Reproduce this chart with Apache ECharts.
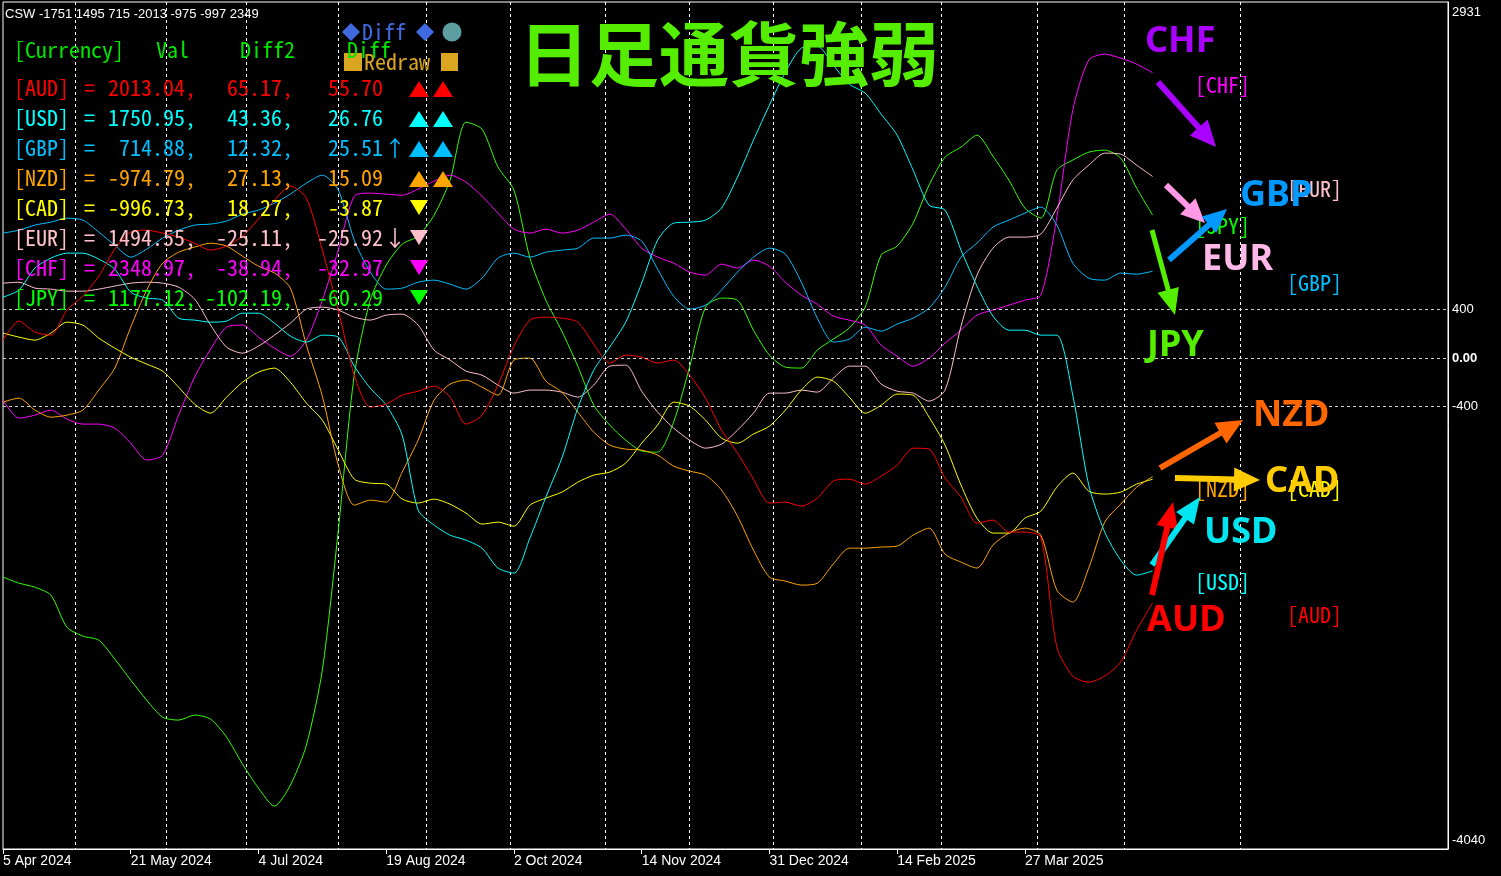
<!DOCTYPE html>
<html><head><meta charset="utf-8">
<script src="https://cdn.jsdelivr.net/npm/echarts@6/dist/echarts.min.js"></script>
<style>html,body{margin:0;padding:0;background:#000;overflow:hidden}#c{width:1501px;height:876px}</style>
</head><body><div id="c"></div>
<script>
// ---- data (daily currency strength, sampled every 4 bars) ----
const BAR_STEP = 4;
const BAR_COUNT = 363;
const LABEL_EVERY = 32;
const tickLabels = ['5 Apr 2024','21 May 2024','4 Jul 2024','19 Aug 2024','2 Oct 2024','14 Nov 2024','31 Dec 2024','14 Feb 2025','27 Mar 2025'];
const monthStartBars = [18,41,61,84,106,127,151,172,193,215,235,259,281,310];
const yMin = -4040, yMax = 2931;
const yLevels = [400, 0, -400];

const AUD = [148,305,214,189,395,510,675,897,1037,1053,1029,996,946,889,922,1004,1144,1300,1416,1317,889,395,-140,-403,-379,-305,-272,-230,-321,-543,-469,-222,99,313,337,329,296,115,-41,25,8,-41,-16,-140,-329,-593,-782,-996,-1193,-1185,-1218,-1152,-1012,-996,-1037,-971,-881,-741,-749,-988,-1144,-1358,-1333,-1432,-1432,-1473,-2378,-2617,-2667,-2617,-2502,-2239,-2013];
const USD = [502,560,741,823,864,864,815,732,543,494,477,329,313,296,305,370,370,288,181,132,189,173,-66,-247,-387,-634,-1251,-1374,-1457,-1498,-1564,-1728,-1769,-1481,-1144,-823,-412,-99,91,296,617,971,1111,1119,1136,1235,1490,1794,2082,2354,2551,2568,2411,2255,2181,2008,1835,1547,1259,1218,889,593,346,230,230,189,189,-305,-1045,-1432,-1662,-1786,-1751];
const GBP = [1029,1053,1095,1119,1152,1136,1037,930,831,897,988,1053,1095,1103,1128,1185,1218,1276,1350,1440,1506,1383,971,708,568,576,625,642,609,568,658,823,864,831,872,889,905,988,988,1012,963,732,510,403,436,560,708,831,905,856,625,329,132,156,255,222,280,329,412,584,831,946,1078,1136,1193,1243,1095,782,658,642,700,691,715];
const NZD = [-362,-329,-428,-486,-469,-428,-263,-82,255,560,782,872,914,946,922,839,757,700,576,107,-313,-881,-1210,-1169,-1185,-938,-675,-346,-214,-181,-239,-305,-16,0,-189,-280,-444,-609,-716,-749,-757,-798,-889,-930,-963,-1086,-1300,-1580,-1802,-1835,-1868,-1852,-1695,-1564,-1564,-1555,-1547,-1457,-1399,-1613,-1679,-1728,-1539,-1440,-1399,-1457,-1909,-2008,-1728,-1350,-1202,-1062,-975];
const CAD = [206,173,148,206,296,272,165,82,8,-49,-107,-239,-379,-453,-321,-198,-115,-82,-198,-370,-510,-757,-996,-1029,-1037,-1160,-1193,-1160,-1202,-1276,-1366,-1350,-1383,-1210,-1152,-1103,-1021,-963,-938,-864,-700,-551,-362,-395,-510,-658,-700,-625,-560,-428,-263,-156,-189,-321,-453,-387,-296,-305,-486,-716,-1045,-1317,-1440,-1440,-1317,-1259,-1062,-946,-1095,-1119,-1103,-1037,-997];
const EUR = [617,625,576,568,551,551,568,593,617,625,617,584,486,272,91,41,99,189,288,403,420,395,337,313,354,362,272,66,-16,-107,-140,-222,-288,-263,-263,-280,-321,-222,-66,-58,-272,-444,-576,-675,-741,-708,-593,-453,-288,-288,-263,-280,-165,-66,-66,-214,-272,-288,-354,-263,263,683,905,996,996,1021,1235,1465,1588,1687,1679,1588,1495];
const CHF = [-346,-494,-469,-428,-502,-543,-543,-576,-700,-839,-798,-469,-156,74,255,272,173,82,16,148,477,889,1333,1358,1350,1341,1391,1457,1506,1448,1333,1193,1062,1029,1062,1029,1053,1119,1185,1062,905,831,782,708,683,774,741,807,757,625,518,444,346,313,272,107,16,-66,0,123,230,354,395,436,477,518,1160,2041,2453,2502,2469,2420,2349];
const JPY = [-1802,-1852,-1885,-1951,-2214,-2288,-2321,-2477,-2650,-2815,-2955,-2979,-2938,-2971,-3119,-3341,-3539,-3687,-3514,-3185,-2568,-1416,-140,477,765,938,1004,1177,1465,1942,1885,1572,1383,823,477,222,-66,-387,-551,-675,-765,-774,-527,-74,420,494,477,230,25,-74,-82,66,156,247,420,848,922,1111,1424,1654,1737,1835,1662,1465,1235,1152,1547,1630,1695,1712,1646,1399,1177];

// legend table texts
const currencies = ['AUD','USD','GBP','NZD','CAD','EUR','CHF','JPY'];
const tableVal   = ['2013.04','1750.95','714.88','-974.79','-996.73','1494.55','2348.97','1177.12'];
const tableDiff2 = ['65.17','43.36','12.32','27.13','18.27','-25.11','-38.94','-102.19'];
const tableDiff  = ['55.70','26.76','25.51','15.09','-3.87','-25.92','-32.97','-60.29'];
const tableArrow = ['','','↑','','','↓','',''];
const tableSignals = [['up','up'],['up','up'],['up','up'],['up','up'],['down'],['down'],['down'],['down']];
const headerText = 'CSW -1751 1495 715 -2013 -975 -997 2349';
const titleText = '日足通貨強弱';

const colors = {AUD:'#ff0000',USD:'#00ffff',GBP:'#00bfff',NZD:'#ffa500',CAD:'#ffff00',EUR:'#ffc0cb',CHF:'#ff00ff',JPY:'#00ff00'};
const lineColors = {AUD:'#ff0000',USD:'#00ffff',GBP:'#00bfff',NZD:'#ffa500',CAD:'#ffff00',EUR:'#ffc0cb',CHF:'#ff00ff',JPY:'#33ff00'};
const seriesData = {AUD, USD, GBP, NZD, CAD, EUR, CHF, JPY};
const drawOrder = ['JPY','CHF','EUR','CAD','NZD','GBP','USD','AUD'];

// ---- graphics helpers ----
const MONO = "22px 'Noto Sans Mono CJK JP', 'Noto Sans CJK JP', monospace";
const G = [];
function txt(x, y, text, fill, font, align) {
  G.push({type:'text', x:x, y:y, z:100, silent:true,
    style:{text:text, fill:fill, font:font || MONO, align:align || 'left', verticalAlign:'middle'}});
}
function poly(points, fill) {
  G.push({type:'polygon', z:100, silent:true, shape:{points:points}, style:{fill:fill}});
}
function arrow(x1, y1, x2, y2, color, w, hl, hw) {
  const dx = x2 - x1, dy = y2 - y1, L = Math.hypot(dx, dy);
  const ux = dx / L, uy = dy / L, nx = -uy, ny = ux;
  const bx = x2 - ux * hl, by = y2 - uy * hl;
  G.push({type:'line', z:110, silent:true, shape:{x1:x1, y1:y1, x2:bx + ux*2, y2:by + uy*2}, style:{stroke:color, lineWidth:w}});
  poly([[x2, y2], [bx + nx*hw/2, by + ny*hw/2], [bx - nx*hw/2, by - ny*hw/2]], color);
}

// header line
txt(5, 14, headerText, '#ffffff', "13px 'Liberation Sans', Arial, sans-serif");
// title
txt(729, 54, titleText, '#55ee00', "bold 70px 'Noto Sans CJK JP', sans-serif", 'center');

// buttons
poly([[351,23],[360,32],[351,41],[342,32]], '#4169e1');
txt(362, 32, 'Diff', '#4169e1');
poly([[425,23],[434,32],[425,41],[416,32]], '#4169e1');
G.push({type:'circle', z:100, silent:true, shape:{cx:452, cy:32, r:9.5}, style:{fill:'#5f9ea0'}});
G.push({type:'rect', z:100, silent:true, shape:{x:344, y:53, width:18, height:18}, style:{fill:'#daa520'}});
txt(364, 62, 'Redraw', '#daa520');
G.push({type:'rect', z:100, silent:true, shape:{x:441, y:53, width:17, height:18}, style:{fill:'#daa520'}});

// table header
const HG = '#00e600';
txt(14, 50, '[Currency]', HG); txt(156, 50, 'Val', HG); txt(240, 50, 'Diff2', HG); txt(347, 50, 'Diff', HG);
currencies.forEach((c, k) => {
  const y = 88 + 30 * k, col = colors[c];
  txt(14, y, '[' + c + ']', col);
  txt(84, y, '=', col);
  txt(196, y, tableVal[k] + ',', col, null, 'right');
  txt(293, y, tableDiff2[k] + ',', col, null, 'right');
  txt(383, y, tableDiff[k], col, null, 'right');
  if (tableArrow[k]) txt(395, y, tableArrow[k], col, null, 'center');
  tableSignals[k].forEach((s, j) => {
    const cx = 419 + 24 * j;
    if (s === 'up') poly([[cx-10, y+9], [cx+10, y+9], [cx, y-7]], col);
    else poly([[cx-9, y-8], [cx+9, y-8], [cx, y+7]], col);
  });
});

// right side tag labels
const tags = [['CHF',1195,85],['EUR',1287,189],['JPY',1195,226],['GBP',1287,283],['NZD',1195,489],['CAD',1287,489],['USD',1195,582],['AUD',1287,615]];
tags.forEach(t => txt(t[1], t[2], '[' + t[0] + ']', colors[t[0]]));

// annotation arrows and labels
const BIG = "bold 36px 'Noto Sans', 'Open Sans', sans-serif";
arrow(1158, 82, 1216, 147, '#aa00ff', 6, 26, 24);
arrow(1166, 185, 1205, 223, '#ff99e6', 6, 24, 22);
arrow(1169, 260, 1227, 209, '#0099ff', 6, 24, 22);
arrow(1152, 230, 1175, 315, '#55ee00', 5, 26, 22);
arrow(1160, 468, 1243, 420, '#ff6600', 6, 26, 24);
arrow(1175, 478, 1260, 480, '#ffcc00', 6, 26, 24);
arrow(1152, 565, 1200, 497, '#00e5f0', 6, 26, 22);
arrow(1152, 595, 1173, 502, '#ff0000', 6, 26, 22);
txt(1145, 42, 'CHF', '#aa00ff', BIG);
txt(1240, 196, 'GBP', '#0099ff', BIG);
txt(1202, 260, 'EUR', '#ffb8e8', BIG);
txt(1147, 346, 'JPY', '#55ee00', BIG);
txt(1253, 416, 'NZD', '#ff6600', BIG);
txt(1265, 482, 'CAD', '#ffcc00', BIG);
txt(1204, 533, 'USD', '#00e5f0', BIG);
txt(1147, 621, 'AUD', '#ff0000', BIG);

// ---- chart ----
const categories = Array.from({length: BAR_COUNT}, (_, i) => String(i));
const isLabelBar = (v) => { const i = Number(v); return i % LABEL_EVERY === 0 && i / LABEL_EVERY < tickLabels.length; };

const series = drawOrder.map((c, k) => {
  const s = {
    type:'line', name:c, symbol:'none', showSymbol:false, smooth:0.25, animation:false,
    data: seriesData[c].map((v, i) => [i * BAR_STEP, v]),
    lineStyle:{width:1, color:lineColors[c]}, itemStyle:{color:lineColors[c]}, z:3
  };
  if (k === 0) {
    s.markLine = {silent:true, symbol:['none','none'], label:{show:false}, animation:false,
      lineStyle:{color:'#d0d0d0', type:[3,3], width:1},
      data: yLevels.map(v => ({yAxis:v}))};
  }
  return s;
});

const chart = echarts.init(document.getElementById('c'));
chart.setOption({
  backgroundColor:'#000000',
  animation:false,
  grid:{left:0, top:2, right:53, bottom:27, show:true, borderColor:'#ffffff', borderWidth:1, backgroundColor:'#000000'},
  xAxis:{
    type:'category', data:categories, boundaryGap:false,
    axisLine:{show:true, onZero:false, lineStyle:{color:'#ffffff', width:1}},
    axisTick:{show:true, length:5, lineStyle:{color:'#ffffff'}, interval:(i, v) => isLabelBar(v)},
    axisLabel:{show:true, color:'#ffffff', fontSize:14, fontFamily:"'Liberation Sans', Arial, sans-serif", align:'left', margin:5,
      interval:(i, v) => isLabelBar(v), formatter:(v) => isLabelBar(v) ? tickLabels[Number(v) / LABEL_EVERY] : ''},
    splitLine:{show:true, interval:(i, v) => monthStartBars.indexOf(Number(v)) >= 0, lineStyle:{color:'#ffffff', type:[3,3], width:1}}
  },
  yAxis:{
    type:'value', position:'right', min:yMin, max:yMax, interval:40,
    axisLine:{show:true, lineStyle:{color:'#ffffff', width:1}},
    axisTick:{show:false}, splitLine:{show:false},
    axisLabel:{show:true, showMinLabel:true, showMaxLabel:true, color:'#ffffff', fontSize:13, fontFamily:"'Liberation Sans', Arial, sans-serif", margin:4,
      formatter:(v) => {
        const r = Math.round(v);
        if (r === yMax) return '{t|' + yMax + '}';
        if (r === yMin) return '{b|' + yMin + '}';
        if (r === 0) return '{z|0.00}';
        if (yLevels.indexOf(r) >= 0) return String(r);
        return '';
      },
      rich:{t:{padding:[20,0,0,0], color:'#fff', fontSize:13}, b:{padding:[0,0,18,0], color:'#fff', fontSize:13}, z:{color:'#fff', fontSize:13, fontWeight:'bold'}}
    }
  },
  series: series,
  graphic:{elements:G}
});
</script></body></html>
